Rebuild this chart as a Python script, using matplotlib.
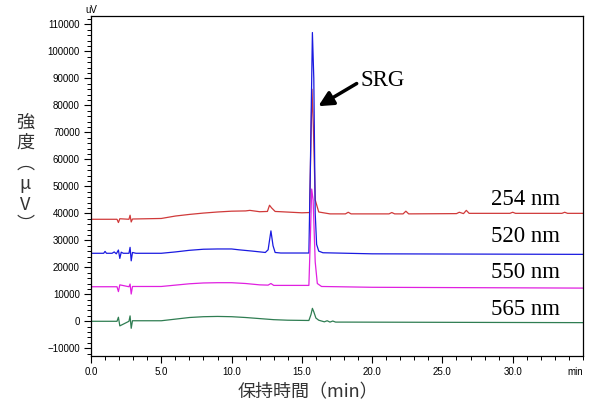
import matplotlib
matplotlib.use("Agg")
import matplotlib.pyplot as plt
from matplotlib.ticker import MultipleLocator

# retention time (min) / signal (uV)
t_254 = [0.0, 1.85, 1.95, 2.05, 2.7, 2.78, 2.86, 2.95, 5.0, 6.0, 7.0, 8.0, 9.0, 10.0, 11.0,
         11.3, 12.0, 12.55, 12.7, 12.85, 13.1, 13.5, 15.0, 15.55, 15.62, 15.72, 15.82, 15.95,
         16.2, 17.0, 18.1, 18.3, 18.5, 21.2, 21.4, 21.6, 22.2, 22.4, 22.6, 26.0, 26.2, 26.5,
         26.7, 26.9, 29.8, 30.0, 30.2, 33.5, 33.7, 33.9, 35.0]
v_254 = [37800, 37800, 36600, 38000, 37800, 39300, 36800, 37900, 38100, 39000, 39600, 40100,
         40500, 40800, 40900, 41100, 40600, 40700, 43000, 42000, 40700, 40600, 40200, 40300,
         60000, 86000, 72000, 45000, 40500, 39800, 39800, 40400, 39800, 39800, 40300, 39800,
         39800, 40800, 39800, 39900, 40400, 39900, 41100, 40000, 40000, 40400, 40000, 40000,
         40400, 40000, 40000]

t_520 = [0.0, 0.9, 1.0, 1.1, 1.5, 1.65, 1.8, 1.95, 2.05, 2.15, 2.3, 2.7, 2.78, 2.86, 2.95, 3.2,
         5.0, 6.0, 7.0, 8.0, 9.0, 10.0, 10.5, 11.5, 12.4, 12.6, 12.8, 12.95, 13.1, 13.5, 15.0,
         15.5, 15.6, 15.75, 15.85, 15.95, 16.05, 16.2, 16.5, 20.0, 35.0]
v_520 = [25200, 25200, 25900, 25200, 25200, 25700, 25000, 26400, 23300, 25600, 25200, 25200,
         27400, 22400, 25500, 25200, 25200, 25700, 26300, 26700, 26800, 26800, 26500, 26000,
         25500, 26500, 33500, 28000, 25500, 25300, 25300, 25300, 55000, 107000, 90000, 40000,
         28500, 26000, 25400, 25000, 24800]

t_550 = [0.0, 1.85, 1.95, 2.05, 2.7, 2.78, 2.86, 2.95, 5.0, 6.0, 7.0, 8.0, 9.0, 10.0, 11.0,
         12.0, 12.6, 12.8, 13.0, 15.0, 15.5, 15.6, 15.7, 15.8, 15.95, 16.1, 16.4, 20.0, 35.0]
v_550 = [12800, 12800, 11000, 13500, 12800, 13800, 10100, 12900, 12900, 13400, 13900, 14200,
         14300, 14300, 14000, 13500, 13400, 14000, 13300, 13300, 13300, 30000, 49000, 45000,
         22000, 14000, 12900, 12600, 12300]

t_565 = [0.0, 1.85, 1.95, 2.05, 2.7, 2.78, 2.86, 2.95, 5.0, 6.0, 7.0, 8.0, 9.0, 10.0, 11.0,
         12.0, 13.0, 14.0, 15.5, 15.65, 15.75, 15.85, 16.0, 16.2, 16.6, 16.8, 17.0, 17.2,
         17.4, 18.0, 35.0]
v_565 = [0, 0, 1500, -1700, 0, 2000, -2600, 200, 200, 800, 1400, 1700, 1800, 1700, 1400,
         1000, 600, 400, 300, 2500, 4800, 3500, 1200, 400, -200, 200, -300, 100, -300, -300,
         -500]

traces = [
    (t_254, v_254, "#d03a3a", "254 nm", 43100),
    (t_520, v_520, "#1a1ae0", "520 nm", 29400),
    (t_550, v_550, "#e020e0", "550 nm", 16000),
    (t_565, v_565, "#2f7d52", "565 nm", 2350),
]

x_ticks = [0.0, 5.0, 10.0, 15.0, 20.0, 25.0, 30.0]
y_ticks = list(range(-10000, 110001, 10000))

fig = plt.figure(figsize=(5.89, 4.12), dpi=100)
ax = fig.add_axes([0.1545, 0.136, 0.8353, 0.825])

for t, v, color, label, y_lab in traces:
    ax.plot(t, v, color=color, lw=0.9)
    ax.text(33.35, y_lab, label, ha="right", va="baseline",
            fontsize=16.5, family="Liberation Serif")

ax.annotate("", xy=(16.17, 79700), xytext=(18.9, 88100),
            arrowprops=dict(arrowstyle="-|>", lw=2.5, color="black", mutation_scale=22,
                            shrinkA=0, shrinkB=0))
ax.text(19.2, 87100, "SRG", ha="left", va="baseline", fontsize=16.5,
        family="Liberation Serif")

ax.set_xlim(0, 35)
ax.set_ylim(-12850, 113100)
ax.set_xticks(x_ticks)
ax.set_xticklabels([f"{x:.1f}" for x in x_ticks])
ax.set_yticks(y_ticks)
ax.xaxis.set_minor_locator(MultipleLocator(1.0))
ax.yaxis.set_minor_locator(MultipleLocator(2000))
ax.tick_params(which="major", length=5, width=0.8, labelsize=7, pad=3, colors="black")
ax.tick_params(which="minor", length=3, width=0.7)
for lbl in ax.get_xticklabels() + ax.get_yticklabels():
    lbl.set_family("Liberation Sans")
for sp in ax.spines.values():
    sp.set_linewidth(0.9)

# unit labels at the axis ends
ax.annotate("min", xy=(1.0, 0.0), xycoords="axes fraction", xytext=(0, -8),
            textcoords="offset points", ha="right", va="top", fontsize=7,
            family="Liberation Sans")
ax.text(0.0, 1.003, "uV", transform=ax.transAxes, ha="center", va="bottom", fontsize=7,
        family="Liberation Sans")

fig.text(0.043, 0.578, "強\n度\n︵\nμ\nV\n︶", ha="center", va="center", fontsize=13,
         linespacing=1.18, color="#333333", family=["Noto Sans CJK JP", "DejaVu Sans"])
fig.text(0.523, 0.049, "保持時間（min）", ha="center", va="center", fontsize=13,
         color="#333333", family=["Noto Sans CJK JP", "DejaVu Sans"])

fig.savefig("out.png", dpi=100)
